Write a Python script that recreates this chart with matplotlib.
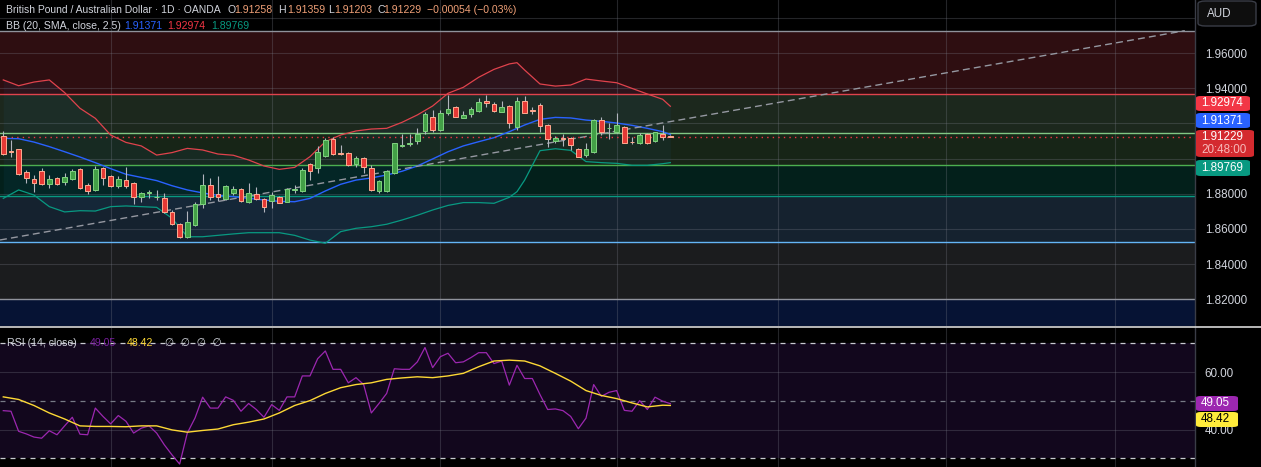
import numpy as np
import matplotlib
matplotlib.use("Agg")
import matplotlib.pyplot as plt
from matplotlib.patches import FancyBboxPatch
from matplotlib.lines import Line2D

plt.rcParams['font.family'] = ['Liberation Sans', 'DejaVu Sans']

W, H = 1261, 467

# daily candles, GBP/AUD
opens = [
    1.9128, 1.9045, 1.9053, 1.8924, 1.8884, 1.8930, 1.8858, 1.8890, 1.8865, 1.8882,
    1.8941, 1.8848, 1.8822, 1.8948, 1.8901, 1.8844, 1.8877, 1.8861, 1.8784, 1.8803,
    1.8780, 1.8776, 1.8695, 1.8628, 1.8556, 1.8623, 1.8742, 1.8850, 1.8799, 1.8769,
    1.8803, 1.8827, 1.8755, 1.8797, 1.8769, 1.8761, 1.8780, 1.8755, 1.8820, 1.8818,
    1.8967, 1.8945, 1.9017, 1.9111, 1.9034, 1.9034, 1.8969, 1.9001, 1.8945, 1.8818,
    1.8818, 1.8916, 1.9074, 1.9083, 1.9102, 1.9159, 1.9234, 1.9163, 1.9257, 1.9291,
    1.9233, 1.9253, 1.9272, 1.9327, 1.9308, 1.9267, 1.9299, 1.9181, 1.9325, 1.9276,
    1.9303, 1.9191, 1.9100, 1.9117, 1.9115, 1.9053, 1.9020, 1.9039, 1.9219, 1.9172,
    1.9153, 1.9178, 1.9096, 1.9087, 1.9140, 1.9102, 1.9140, 1.91258]
highs = [
    1.9157, 1.9106, 1.9055, 1.8935, 1.8907, 1.8945, 1.8907, 1.8897, 1.8920, 1.8939,
    1.8945, 1.8859, 1.8958, 1.8954, 1.8907, 1.8901, 1.8954, 1.8865, 1.8812, 1.8822,
    1.8822, 1.8803, 1.8708, 1.8636, 1.8702, 1.8755, 1.8912, 1.8888, 1.8901, 1.8850,
    1.8844, 1.8831, 1.8859, 1.8841, 1.8774, 1.8812, 1.8787, 1.8831, 1.8850, 1.8945,
    1.8977, 1.9072, 1.9119, 1.9121, 1.9077, 1.9039, 1.9015, 1.9007, 1.8964, 1.8878,
    1.8935, 1.9090, 1.9140, 1.9140, 1.9172, 1.9267, 1.9276, 1.9276, 1.9361, 1.9299,
    1.9272, 1.9295, 1.9342, 1.9361, 1.9323, 1.9329, 1.9305, 1.9352, 1.9356, 1.9295,
    1.9314, 1.9197, 1.9128, 1.9140, 1.9125, 1.9058, 1.9091, 1.9223, 1.9234, 1.9200,
    1.9261, 1.9185, 1.9121, 1.9144, 1.9147, 1.9153, 1.9191, 1.91359]
lows = [
    1.9020, 1.9011, 1.8907, 1.8859, 1.8812, 1.8850, 1.8835, 1.8850, 1.8850, 1.8878,
    1.8827, 1.8799, 1.8818, 1.8850, 1.8841, 1.8831, 1.8831, 1.8742, 1.8755, 1.8774,
    1.8765, 1.8693, 1.8623, 1.8547, 1.8547, 1.8619, 1.8717, 1.8765, 1.8759, 1.8765,
    1.8793, 1.8755, 1.8746, 1.8765, 1.8698, 1.8721, 1.8746, 1.8752, 1.8806, 1.8812,
    1.8878, 1.8916, 1.9011, 1.9020, 1.9020, 1.8958, 1.8954, 1.8916, 1.8818, 1.8806,
    1.8812, 1.8912, 1.9064, 1.9072, 1.9083, 1.9140, 1.9153, 1.9159, 1.9248, 1.9234,
    1.9229, 1.9238, 1.9267, 1.9295, 1.9267, 1.9263, 1.9172, 1.9163, 1.9257, 1.9253,
    1.9153, 1.9068, 1.9091, 1.9072, 1.9049, 1.9007, 1.9007, 1.9034, 1.9134, 1.9113,
    1.9144, 1.9087, 1.9083, 1.9083, 1.9083, 1.9096, 1.9106, 1.91203]
closes = [
    1.9026, 1.9039, 1.8911, 1.8888, 1.8859, 1.8854, 1.8882, 1.8854, 1.8897, 1.8930,
    1.8831, 1.8818, 1.8939, 1.8890, 1.8844, 1.8884, 1.8846, 1.8780, 1.8803, 1.8810,
    1.8784, 1.8698, 1.8628, 1.8556, 1.8638, 1.8742, 1.8850, 1.8780, 1.8784, 1.8844,
    1.8827, 1.8761, 1.8803, 1.8769, 1.8727, 1.8793, 1.8750, 1.8825, 1.8825, 1.8935,
    1.8931, 1.9036, 1.9106, 1.9024, 1.9028, 1.8964, 1.9001, 1.8954, 1.8822, 1.8873,
    1.8930, 1.9087, 1.9079, 1.9089, 1.9140, 1.9253, 1.9163, 1.9257, 1.9280, 1.9238,
    1.9248, 1.9280, 1.9320, 1.9314, 1.9270, 1.9291, 1.9200, 1.9325, 1.9261, 1.9269,
    1.9185, 1.9109, 1.9117, 1.9111, 1.9077, 1.9011, 1.9053, 1.9219, 1.9153, 1.9176,
    1.9191, 1.9091, 1.9092, 1.9132, 1.9087, 1.9151, 1.9125, 1.91229]

# Bollinger bands sampled at these candle indices
bb_idx = list(range(0, 67, 2)) + [67] + list(range(68, 87, 2)) + [87]
bb_upper = [1.9447, 1.9414, 1.9435, 1.9447, 1.9375, 1.9286, 1.9229, 1.9134, 1.9092, 1.9072,
            1.9020, 1.9034, 1.9058, 1.9049, 1.9026, 1.9019, 1.8992, 1.8958, 1.8939, 1.8950,
            1.9011, 1.9096, 1.9134, 1.9157, 1.9168, 1.9172, 1.9206, 1.9248, 1.9299, 1.9371,
            1.9405, 1.9462, 1.9507, 1.9538, 1.9545, 1.9503, 1.9424, 1.9412, 1.9418, 1.9452,
            1.9441, 1.9431, 1.9399, 1.9367, 1.9337, 1.92974]
bb_basis = [1.9115, 1.9113, 1.9094, 1.9068, 1.9039, 1.9009, 1.8977, 1.8943, 1.8911, 1.8893,
            1.8875, 1.8846, 1.8822, 1.8805, 1.8791, 1.8784, 1.8774, 1.8765, 1.8757, 1.8755,
            1.8774, 1.8816, 1.8854, 1.8878, 1.8890, 1.8907, 1.8928, 1.8958, 1.8998, 1.9039,
            1.9072, 1.9096, 1.9119, 1.9153, 1.9172, 1.9191, 1.9223, 1.9234, 1.9231, 1.9219,
            1.9212, 1.9202, 1.9189, 1.9172, 1.9153, 1.91371]
bb_lower = [1.8774, 1.8822, 1.8793, 1.8727, 1.8697, 1.8704, 1.8702, 1.8727, 1.8731, 1.8727,
            1.8723, 1.8661, 1.8556, 1.8556, 1.8564, 1.8572, 1.8579, 1.8579, 1.8579, 1.8564,
            1.8537, 1.8519, 1.8585, 1.8604, 1.8613, 1.8627, 1.8651, 1.8678, 1.8708, 1.8734,
            1.8750, 1.8750, 1.8746, 1.8780, 1.8812, 1.8878, 1.9045, 1.9056, 1.9047, 1.8983,
            1.8977, 1.8973, 1.8962, 1.8962, 1.8971, 1.89769]

# fib retracement levels (top to bottom) and colours
fib_levels = [1.97267, 1.93653, 1.91437, 1.89636, 1.87858, 1.85244, 1.82006]
fib_line_colors = ['#8f929b', '#e0434d', '#81c784', '#4caf50', '#089981', '#64b5f6', '#8f929b']
fib_fill_colors = ['#2e0e11', '#1c281d', '#172517', '#03201b', '#15222f', '#1b1c1e', '#061334']

# trend line anchors (candle index, price)
trend_x = [-0.43, 154.1]
trend_y = [1.85375, 1.97267]

# RSI(14) and its moving average
rsi = [46.6, 46.4, 39.4, 38.5, 37.4, 37.0, 39.6, 38.2, 41.3, 44.3,
       38.4, 38.2, 47.5, 44.6, 42.0, 44.9, 42.9, 38.8, 40.5, 41.3,
       38.8, 34.7, 31.2, 28.0, 38.8, 44.0, 51.3, 47.5, 47.5, 51.4,
       50.2, 46.4, 49.1, 47.0, 44.3, 48.7, 46.7, 51.4, 51.4, 58.7,
       58.7, 64.7, 67.4, 61.0, 61.0, 56.3, 58.1, 55.7, 45.8, 49.1,
       52.6, 61.2, 61.0, 61.0, 63.6, 68.6, 61.6, 65.4, 66.6, 63.3,
       63.6, 65.1, 66.8, 66.8, 63.0, 63.9, 55.5, 62.4, 57.8, 57.8,
       52.2, 47.0, 47.2, 46.6, 44.6, 40.3, 44.0, 55.7, 51.6, 53.0,
       53.6, 46.7, 46.4, 50.1, 47.0, 51.3, 49.9, 49.05]
ma_idx = list(range(0, 87, 2)) + [87]
rsi_ma = [51.4, 50.5, 48.4, 45.8, 43.7, 41.3, 41.1, 41.1, 41.0, 41.3,
          41.3, 39.9, 39.1, 39.7, 40.2, 41.7, 42.6, 43.7, 45.8, 48.4,
          50.1, 52.6, 54.6, 55.7, 56.3, 57.5, 58.0, 58.4, 58.1, 58.7,
          59.6, 61.9, 63.9, 64.2, 63.9, 62.2, 59.6, 56.9, 53.6, 51.9,
          50.8, 49.3, 47.9, 48.5, 48.42]

month_idx = [14, 35, 57, 80, 101, 123, 145]
price_ticks = [1.82, 1.84, 1.86, 1.88, 1.90, 1.92, 1.94, 1.96, 1.98]
hidden_ticks = [1.90, 1.92, 1.98]


def fx(px):
    return px / W


def fy(py):
    return 1 - py / H


fig = plt.figure(figsize=(W / 100, H / 100), dpi=100, facecolor='black')
ax = fig.add_axes([0, fy(326), fx(1195), 326 / H])
ax2 = fig.add_axes([0, 0, fx(1195), fy(328)])

xmin, xmax = -0.43, 155.43
for a in (ax, ax2):
    a.set_facecolor('black')
    a.set_xlim(xmin, xmax)
    for s in a.spines.values():
        s.set_visible(False)
    a.set_xticks(month_idx)
    a.tick_params(axis='x', length=0, labelbottom=False)
    a.yaxis.tick_right()
    a.tick_params(axis='y', length=0, pad=7, labelsize=8.4, labelcolor='#d1d4dc')
    a.grid(True, color='#787b86', alpha=0.3, lw=0.8)
    a.set_axisbelow(True)

# ---- main pane
ax.set_ylim(1.804886, 1.990114)
ax.set_yticks(price_ticks)
ax.set_yticklabels(['' if t in hidden_ticks else '%.5f' % t for t in price_ticks])

bounds = fib_levels + [1.70]
for k in range(len(fib_fill_colors)):
    ax.axhspan(bounds[k + 1], bounds[k], color=fib_fill_colors[k], lw=0, zorder=0.5)
for lv, c in zip(fib_levels, fib_line_colors):
    ax.axhline(lv, color=c, lw=1.0, zorder=1.2)

ax.fill_between(bb_idx, bb_lower, bb_upper, color='#2196f3', alpha=0.05, lw=0, zorder=1.1)
ax.plot(bb_idx, bb_upper, color='#e0434d', lw=0.9, zorder=2)
ax.plot(bb_idx, bb_basis, color='#2962ff', lw=1.0, zorder=2)
ax.plot(bb_idx, bb_lower, color='#089981', lw=0.9, zorder=2)

ax.plot(trend_x, trend_y, color='#9598a1', lw=1.0, dashes=(5, 3), zorder=2.2)
ax.axhline(closes[-1], color='#f23645', lw=1.0, dashes=(1, 3), zorder=2.2)

xs = np.arange(len(opens))
o = np.array(opens)
c = np.array(closes)
up = c >= o
ax.vlines(xs, lows, highs, color='#b2b5be', lw=0.8, zorder=3)
body_lo = np.minimum(o, c)
body_h = np.maximum(np.abs(c - o), 0.0004)
ax.bar(xs[up], body_h[up], bottom=body_lo[up], width=0.62,
       color='#43a047', edgecolor='#7fd37f', lw=0.7, zorder=4)
ax.bar(xs[~up], body_h[~up], bottom=body_lo[~up], width=0.62,
       color='#e53935', edgecolor='#ffab91', lw=0.7, zorder=4)

# ---- RSI pane
ax2.set_ylim(26.97, 75.4)
ax2.set_yticks([40, 60])
ax2.set_yticklabels(['40.00', '60.00'])
ax2.grid(False, axis='y')
ax2.axhspan(30, 70, color='#12071d', lw=0, zorder=0.5)
for v in (40, 60):
    ax2.axhline(v, color='#787b86', alpha=0.3, lw=0.8, zorder=0.8)
ax2.axhline(70, color='#c8cad0', lw=0.9, dashes=(4, 4), zorder=1)
ax2.axhline(30, color='#c8cad0', lw=0.9, dashes=(4, 4), zorder=1)
ax2.axhline(50, color='#787b86', lw=0.9, dashes=(4, 4), zorder=1)
ax2.plot(xs, rsi, color='#9c27b0', lw=0.9, zorder=2)
ax2.plot(ma_idx, rsi_ma, color='#fdd835', lw=1.0, zorder=2.1)

# ---- separators
fig.add_artist(Line2D([fx(1195), fx(1195)], [0, 1], color='#3a3d47', lw=1))
fig.add_artist(Line2D([0, 1], [fy(327), fy(327)], color='#d8d8d8', lw=1.2))

# ---- header texts
gray = '#d1d4dc'
peach = '#f0a077'
fs = 7.6
y1 = fy(10)
fig.text(fx(6), y1, 'British Pound / Australian Dollar \u00b7 1D \u00b7 OANDA', color=gray, fontsize=7.45, va='center')
for lab, val, xl, xv in [('O', '1.91258', 228, 234), ('H', '1.91359', 278, 287),
                         ('L', '1.91203', 328, 334), ('C', '1.91229', 377, 383)]:
    fig.text(fx(xl), y1, lab, color=gray, fontsize=fs, va='center')
    fig.text(fx(xv), y1, val, color=peach, fontsize=fs, va='center')
fig.text(fx(427), y1, '\u22120.00054 (\u22120.03%)', color=peach, fontsize=fs, va='center')

y2 = fy(26)
fig.text(fx(6), y2, 'BB (20, SMA, close, 2.5)', color=gray, fontsize=fs, va='center')
fig.text(fx(124), y2, '1.91371', color='#2962ff', fontsize=fs, va='center')
fig.text(fx(167), y2, '1.92974', color='#f23645', fontsize=fs, va='center')
fig.text(fx(211), y2, '1.89769', color='#089981', fontsize=fs, va='center')

y3 = fy(343)
fig.text(fx(7), y3, 'RSI (14, close)', color=gray, fontsize=fs, va='center')
fig.text(fx(90), y3, '49.05', color='#7b1fa2', fontsize=fs, va='center')
fig.text(fx(127), y3, '48.42', color='#fdd835', fontsize=fs, va='center')
fig.text(fx(165), y3, '\u2205  \u2205  \u2205  \u2205', color=gray, fontsize=fs, va='center',
         family=['DejaVu Sans'])


# ---- price scale labels
def tag(x0, y0, x1, y1_, face, lines, colors):
    box = FancyBboxPatch((fx(x0), fy(y1_)), fx(x1 - x0), (y1_ - y0) / H,
                         boxstyle='round,pad=0,rounding_size=0.004',
                         transform=fig.transFigure, facecolor=face, edgecolor='none', zorder=5)
    fig.add_artist(box)
    n = len(lines)
    step = (y1_ - y0) / n
    for k, (t, col) in enumerate(zip(lines, colors)):
        fig.text(fx(x0 + 5), fy(y0 + step * (k + 0.5)), t, color=col, fontsize=8.4,
                 va='center', ha='left', zorder=6)


tag(1196, 96, 1250, 111, '#f23645', ['1.92974'], ['white'])
tag(1196, 113, 1250, 128, '#2962ff', ['1.91371'], ['white'])
tag(1196, 130, 1254, 157, '#d42a2f', ['1.91229', '20:48:00'], ['white', '#f7b9b9'])
tag(1196, 160, 1250, 176, '#089981', ['1.89769'], ['white'])
tag(1196, 396, 1238, 411, '#9c27b0', ['49.05'], ['white'])
tag(1196, 412, 1238, 427, '#ffeb3b', ['48.42'], ['black'])

aud = FancyBboxPatch((fx(1198), fy(26)), fx(58), 25 / H, boxstyle='round,pad=0,rounding_size=0.006',
                     transform=fig.transFigure, facecolor='#0e0e0e', edgecolor='#3a3d47', lw=1, zorder=5)
fig.add_artist(aud)
fig.text(fx(1207), fy(14), 'AUD', color=gray, fontsize=8.4, va='center', zorder=6)

fig.savefig('out.png', dpi=100, facecolor='black')
